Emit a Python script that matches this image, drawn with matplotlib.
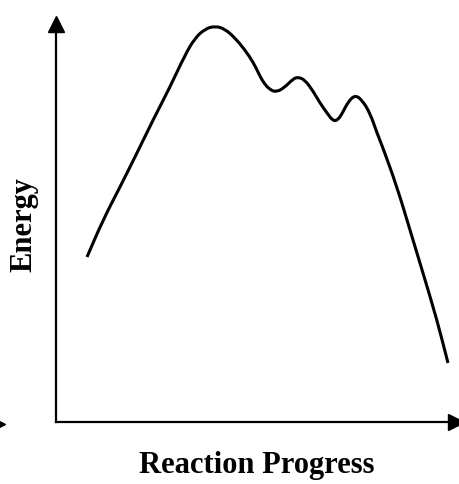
import matplotlib
matplotlib.use("Agg")
import matplotlib.pyplot as plt
from matplotlib.path import Path
from matplotlib.patches import PathPatch

# Reaction coordinate profile (arbitrary units)
progress = [0.775, 1.175, 1.6, 2.025, 2.425, 2.85, 3.225, 3.475, 3.725, 3.975,
            4.225, 4.475, 4.725, 4.925, 5.05, 5.175, 5.35, 5.525, 5.725, 5.925,
            6.05, 6.225, 6.425, 6.6, 6.775, 6.925, 7.05, 7.175, 7.3, 7.475,
            7.65, 7.85, 8.025, 8.175, 8.525, 8.85, 9.175, 9.525, 9.8]
energy = [4.125, 5.05, 5.875, 6.725, 7.55, 8.375, 9.175, 9.6, 9.825, 9.9,
          9.825, 9.6, 9.3, 9.0, 8.75, 8.5, 8.3, 8.25, 8.375, 8.575,
          8.625, 8.55, 8.275, 7.975, 7.725, 7.525, 7.55, 7.75, 8.0, 8.175,
          8.05, 7.725, 7.225, 6.85, 5.875, 4.8, 3.725, 2.55, 1.475]

x_label = "Reaction Progress"
y_label = "Energy"


def smooth_path(xs, ys):
    # quadratic curve through midpoints, using the read points as controls
    pts = list(zip(xs, ys))
    verts = [pts[0]]
    codes = [Path.MOVETO]
    mid = lambda a, b: ((a[0] + b[0]) / 2, (a[1] + b[1]) / 2)
    verts.append(mid(pts[0], pts[1]))
    codes.append(Path.LINETO)
    for i in range(1, len(pts) - 1):
        verts += [pts[i], mid(pts[i], pts[i + 1])]
        codes += [Path.CURVE3, Path.CURVE3]
    verts.append(pts[-1])
    codes.append(Path.LINETO)
    return Path(verts, codes)


fig = plt.figure(figsize=(4.6, 4.84), dpi=100)
ax = fig.add_axes([56 / 460, 62 / 484, 400 / 460, 398 / 484])

ax.add_patch(PathPatch(smooth_path(progress, energy), fill=False,
                       edgecolor="black", lw=2.2, capstyle="butt"))
ax.set_xlim(0, 10)
ax.set_ylim(0, 9.95)

# only left and bottom spines, with arrow heads
for side in ["top", "right"]:
    ax.spines[side].set_visible(False)
for side in ["left", "bottom"]:
    ax.spines[side].set_linewidth(1.6)
    ax.spines[side].set_color("black")
ax.set_xticks([])
ax.set_yticks([])
ax.plot(0, 1, "^k", ms=11.5, transform=ax.transAxes, clip_on=False)
ax.plot(1, 0, ">k", ms=11.5, transform=ax.transAxes, clip_on=False)
# stray arrow tip at the far left edge of the scan
ax.plot(-3 / 460, 60 / 484, ">k", ms=11.5, transform=fig.transFigure,
        clip_on=False)

font = dict(family="Liberation Serif", weight="bold", size=22)
fig.text(24 / 460, 1 - 225 / 484, y_label, rotation=90, ha="center",
         va="center", **font)
fig.text(257 / 460, 11 / 484, x_label, ha="center", va="baseline", **font)

fig.savefig("out.png", dpi=100, facecolor="white")
